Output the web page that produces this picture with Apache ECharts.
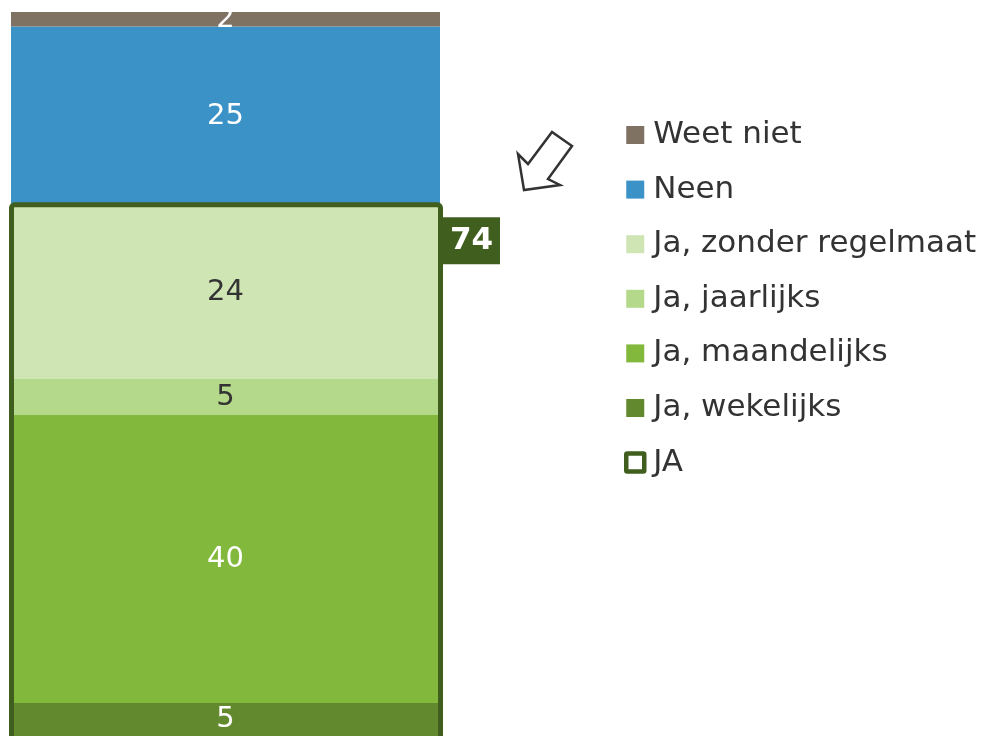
<!DOCTYPE html>
<html>
<head>
<meta charset="utf-8">
<script src="https://cdn.jsdelivr.net/npm/echarts@6/dist/echarts.min.js"></script>
<style>html,body{margin:0;padding:0;background:#fff}#c{width:998px;height:736px}</style>
</head>
<body>
<div id="c"></div>
<script>
var categories = ['Totaal'];
var wekelijks = [5];
var maandelijks = [40];
var jaarlijks = [5];
var zonderRegelmaat = [24];
var neen = [25];
var weetNiet = [2];
var jaTotal = [74];

var FONT = 'DejaVu Sans';
var chart = echarts.init(document.getElementById('c'));

function barSeries(name, data, color, labelColor) {
  return {
    name: name, type: 'bar', stack: 'total', data: data,
    barWidth: '100%',
    itemStyle: { color: color },
    label: { show: true, position: 'inside', color: labelColor, fontFamily: FONT, fontSize: 29 },
    emphasis: { disabled: true },
    z: 2
  };
}

var option = {
  animation: false,
  textStyle: { fontFamily: FONT },
  grid: { left: 11, width: 429, top: 12, bottom: 0 },
  xAxis: { type: 'category', data: categories, show: false },
  // bottom edge of the picture sits slightly above the zero line (the bar is cropped)
  yAxis: { type: 'value', min: 0.417, max: 101, show: false },
  legend: {
    orient: 'vertical', left: 624, top: 119.5, padding: 0,
    itemWidth: 18, itemHeight: 18, itemGap: 23.6,
    textStyle: { color: '#333', fontFamily: FONT, fontSize: 31, lineHeight: 31, padding: [0, 0, 0, 4] },
    selectedMode: false,
    data: [
      { name: 'Weet niet', icon: 'rect' },
      { name: 'Neen', icon: 'rect' },
      { name: 'Ja, zonder regelmaat', icon: 'rect' },
      { name: 'Ja, jaarlijks', icon: 'rect' },
      { name: 'Ja, maandelijks', icon: 'rect' },
      { name: 'Ja, wekelijks', icon: 'rect' },
      { name: 'JA', icon: 'path://M1,0 L17,0 Q18,0 18,1 L18,17 Q18,18 17,18 L1,18 Q0,18 0,17 L0,1 Q0,0 1,0 Z',
        itemStyle: { color: '#ffffff', borderColor: '#405f1e', borderWidth: 4.5 } }
    ]
  },
  graphic: [{
    type: 'polygon',
    shape: { points: [[524, 190], [518, 154], [528, 164], [552, 132], [572, 146], [548, 179], [560, 185]] },
    style: { fill: '#ffffff', stroke: '#333333', lineWidth: 2.5, lineJoin: 'miter' },
    z: 10
  }],
  series: [
    barSeries('Ja, wekelijks', wekelijks, '#62892e', '#ffffff'),
    barSeries('Ja, maandelijks', maandelijks, '#82b93d', '#ffffff'),
    barSeries('Ja, jaarlijks', jaarlijks, '#b5d98a', '#333333'),
    barSeries('Ja, zonder regelmaat', zonderRegelmaat, '#cfe5b3', '#333333'),
    barSeries('Neen', neen, '#3a92c6', '#ffffff'),
    barSeries('Weet niet', weetNiet, '#7f7263', '#ffffff'),
    {
      name: 'JA', type: 'custom',
      data: categories.map(function (c, i) { return [i, jaTotal[i]]; }),
      itemStyle: { color: '#ffffff', borderColor: '#405f1e', borderWidth: 4 },
      z: 5,
      clip: false,
      renderItem: function (params, api) {
        var top = api.coord([api.value(0), api.value(1)]);
        var bottom = api.coord([api.value(0), 0]);
        var w = api.size([1, 0])[0];
        var x0 = top[0] - w / 2, x1 = top[0] + w / 2;
        return {
          type: 'group',
          children: [
            { type: 'rect', shape: { x: x0 + 0.5, y: top[1] - 1.5, width: w, height: bottom[1] - top[1] + 20, r: 3 },
              style: { fill: 'none', stroke: '#405f1e', lineWidth: 5 } },
            { type: 'rect', shape: { x: x1 + 3, y: top[1] + 11, width: 57, height: 47 },
              style: { fill: '#405f1e' } },
            { type: 'text', x: x1 + 31.5, y: top[1] + 35,
              style: { text: String(api.value(1)), fill: '#ffffff', font: 'bold 31px "DejaVu Sans"', align: 'center', verticalAlign: 'middle' } }
          ]
        };
      }
    }
  ]
};
chart.setOption(option);
</script>
</body>
</html>
